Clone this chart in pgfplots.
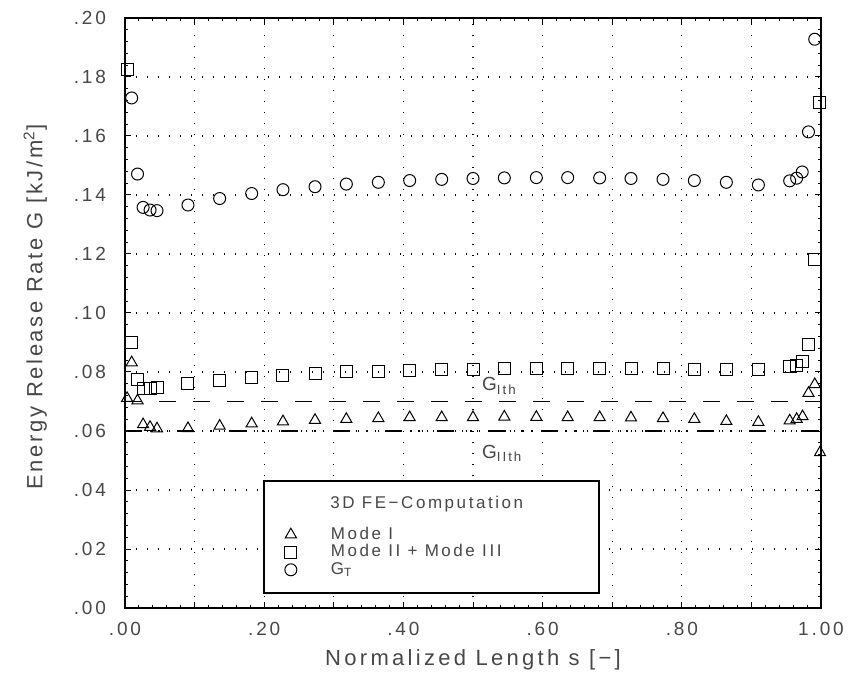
\documentclass[border=0pt]{standalone}
\usepackage{fontspec}
\setmainfont{Liberation Sans}[LetterSpace=15]
\newfontfamily\ylfont{Liberation Sans}[LetterSpace=12]
\usepackage{pgfplots}
\pgfplotsset{compat=1.18}

\begin{document}
\begin{tikzpicture}
\begin{axis}[
    name=ax,
    at={(0,0)},
    anchor=south west,
    scale only axis,
    width=348pt,
    height=295pt,
    xmin=0, xmax=1,
    ymin=0, ymax=0.2,
    axis line style={line width=0.7pt},
    xtick={0,0.1,0.2,0.3,0.4,0.5,0.6,0.7,0.8,0.9,1},
    xticklabels={.00,,.20,,.40,,.60,,.80,,1.00},
    ytick={0,0.02,0.04,0.06,0.08,0.1,0.12,0.14,0.16,0.18,0.2},
    yticklabels={.00,.02,.04,.06,.08,.10,.12,.14,.16,.18,.20},
    minor x tick num=4,
    minor y tick num=4,
    tick align=inside,
    major tick length=3pt,
    minor tick length=1.5pt,
    tick style={black, line width=0.5pt},
    xmajorgrids, ymajorgrids,
    grid style={black, line width=0.6pt, dash pattern=on 0.5pt off 5pt},
    ticklabel style={font=\fontsize{9.5}{11}\selectfont, text=black!72},
    yticklabel style={xshift=-6pt},
    xticklabel style={yshift=-3.5pt},
    xlabel={Normalized Length s [−]},
    ylabel={\ylfont Energy Release Rate G [kJ/m\textsuperscript{2}]},
    label style={font=\fontsize{11}{13}\selectfont, text=black!72},
    xlabel style={at={(axis description cs:0.5,0)}, anchor=center, yshift=-26pt},
    ylabel style={at={(axis description cs:-0.129,0.51)}, anchor=center},
    legend style={
        draw=none, fill=none,
        at={(0.2205,0.148)}, anchor=north west,
        font=\fontsize{8.5}{10}\selectfont,
        text=black!72,
        column sep=15pt,
        row sep=-0.7pt,
        nodes={inner xsep=2pt, inner ysep=1pt, text height=6pt, text depth=1.5pt},
    },
    legend cell align=left,
    clip=false,
]

% threshold lines
\addplot[black, line width=0.55pt, dash pattern=on 8.5pt off 8.5pt, forget plot]
coordinates {(0,0.07) (1,0.07)};
\addplot[black, line width=0.55pt,
  dash pattern=on 8.5pt off 3.9pt on 0.6pt off 3.7pt on 0.6pt off 3.7pt on 0.6pt off 4.4pt,
  forget plot]
coordinates {(0,0.06) (1,0.06)};

% legend box
\draw[black, line width=0.6pt, fill=white]
(rel axis cs:0.1997,0.2153) rectangle (rel axis cs:0.681,0.0254);

% Mode I
\addplot[only marks, mark=triangle, mark size=3.2pt, mark options={black, line width=0.5pt}]
coordinates {
(0.003,0.0711) (0.0096,0.0832) (0.018,0.0703) (0.026,0.0622) (0.036,0.0613)
(0.046,0.0608) (0.0905,0.0609) (0.136,0.0617) (0.182,0.0625) (0.227,0.0632)
(0.273,0.0637) (0.318,0.0640) (0.364,0.0643) (0.409,0.0646) (0.455,0.0646)
(0.5,0.0646) (0.545,0.0648) (0.591,0.0647) (0.636,0.0646) (0.682,0.0646)
(0.727,0.0645) (0.773,0.0643) (0.818,0.0640) (0.864,0.0633) (0.91,0.0630)
(0.955,0.0635) (0.965,0.0640) (0.9735,0.0649) (0.982,0.0728) (0.991,0.0758)
(0.9986,0.0527)
};
\addlegendentry{Mode I}

% Mode II + Mode III
\addplot[only marks, mark=square, mark size=3pt, mark options={black, line width=0.5pt}]
coordinates {
(0.003,0.1826) (0.0096,0.0899) (0.018,0.0773) (0.026,0.0745) (0.036,0.0745)
(0.046,0.0747) (0.0905,0.0762) (0.136,0.0771) (0.182,0.0781) (0.227,0.0787)
(0.273,0.0794) (0.318,0.0800) (0.364,0.0802) (0.409,0.0806) (0.455,0.0809)
(0.5,0.0809) (0.545,0.0813) (0.591,0.0813) (0.636,0.0812) (0.682,0.0812)
(0.727,0.0811) (0.773,0.0811) (0.818,0.0810) (0.864,0.0809) (0.91,0.0809)
(0.955,0.0818) (0.965,0.0821) (0.9735,0.0835) (0.982,0.0894) (0.991,0.1180)
(0.9976,0.1713)
};
\addlegendentry{Mode II + Mode III}

% G_T
\addplot[only marks, mark=o, mark size=3pt, mark options={black, line width=0.5pt}]
coordinates {
(0.0096,0.1729) (0.018,0.1471) (0.026,0.1358) (0.036,0.1349) (0.046,0.1347)
(0.0905,0.1366) (0.136,0.1388) (0.182,0.1405) (0.227,0.1418) (0.273,0.1428)
(0.318,0.1437) (0.364,0.1443) (0.409,0.1449) (0.455,0.1453) (0.5,0.1456)
(0.545,0.1458) (0.591,0.1459) (0.636,0.1459) (0.682,0.1458) (0.727,0.1456)
(0.773,0.1453) (0.818,0.1449) (0.864,0.1443) (0.91,0.1434) (0.955,0.1448)
(0.965,0.1457) (0.973,0.1478) (0.982,0.1614) (0.991,0.1928)
};
\addlegendentry{G\textsubscript{T}}

% legend title and threshold labels
\node[anchor=base west, font=\fontsize{8.5}{10}\selectfont, text=black!72, inner sep=0pt]
at (rel axis cs:0.2945,0.1695) {3D FE−Computation};
\node[anchor=base west, font=\fontsize{9.5}{11}\selectfont, text=black!72, inner sep=0pt]
at (axis cs:0.5125,0.0736) {G\textsubscript{Ith}};
\node[anchor=base west, font=\fontsize{9.5}{11}\selectfont, text=black!72, inner sep=0pt]
at (axis cs:0.5125,0.0508) {G\textsubscript{IIth}};

\end{axis}
\pgfresetboundingbox
\path[use as bounding box] (-62.5pt,-36pt) rectangle (362.5pt,304pt);
\end{tikzpicture}
\end{document}
